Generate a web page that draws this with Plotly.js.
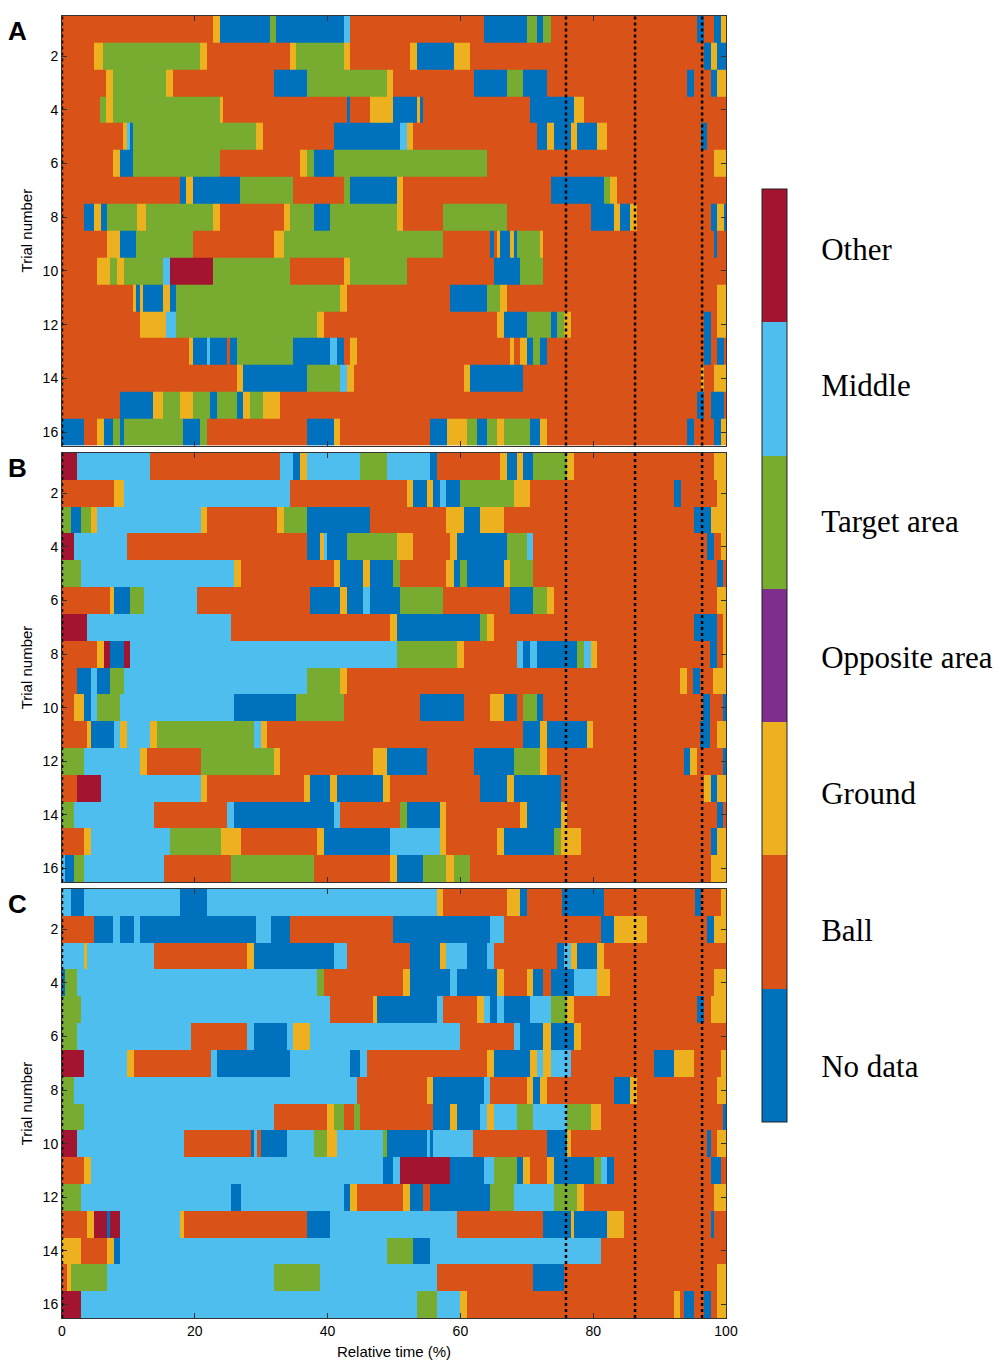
<!DOCTYPE html>
<html>
<head>
<meta charset="utf-8">
<script src="https://cdn.plot.ly/plotly-3.0.1.min.js"></script>
<style>html,body{margin:0;padding:0;background:#fff;}#chart{width:1000px;height:1369px;}</style>
</head>
<body>
<div id="chart"></div>
<script>
// Categories (colour-bar order, bottom to top)
const categories = ['No data','Ball','Ground','Opposite area','Target area','Middle','Other'];
const codeKeys   = ['N','B','G','O','T','M','X'];
const catColors  = ['#0072BD','#D95319','#EDB120','#7E2F8E','#77AC30','#4DBEEE','#A2142F'];
const trials = [1,2,3,4,5,6,7,8,9,10,11,12,13,14,15,16];
const yTicks = [2,4,6,8,10,12,14,16];
const xTicks = [0,20,40,60,80,100];
const eventLines = [0, 75.9, 86.3, 96.4];
const panelLabels = ['A','B','C'];

// Each row: list of [start %, category code]
const panelA = [
 [[0,'B'],[22.8,'G'],[23.8,'N'],[31.3,'T'],[32.3,'N'],[42.4,'M'],[43.4,'B'],[63.5,'N'],[70.0,'T'],[71.5,'N'],[72.5,'T'],[73.6,'B'],[95.7,'N'],[96.7,'B'],[98.2,'N'],[99.2,'G']],
 [[0,'B'],[4.8,'G'],[6.2,'T'],[20.8,'G'],[21.8,'B'],[34.3,'G'],[35.3,'T'],[42.4,'G'],[43.4,'B'],[52.4,'G'],[53.4,'N'],[59.0,'G'],[61.5,'B'],[96.7,'N'],[97.7,'G'],[98.7,'N']],
 [[0,'B'],[6.7,'G'],[7.7,'T'],[15.7,'G'],[16.7,'B'],[31.9,'N'],[36.9,'T'],[48.9,'G'],[49.9,'B'],[62.0,'N'],[67.0,'T'],[69.5,'N'],[73.1,'B'],[94.2,'N'],[95.2,'B'],[97.7,'N'],[98.7,'G']],
 [[0,'B'],[5.7,'T'],[6.7,'G'],[7.7,'T'],[23.8,'G'],[24.3,'B'],[42.9,'N'],[43.4,'B'],[46.4,'G'],[49.9,'N'],[53.4,'G'],[53.9,'N'],[54.4,'B'],[70.5,'N'],[77.1,'G'],[78.6,'B']],
 [[0,'B'],[9.2,'G'],[9.8,'M'],[10.2,'N'],[10.7,'T'],[29.2,'G'],[30.3,'B'],[40.9,'N'],[50.9,'M'],[51.9,'G'],[52.9,'B'],[71.5,'N'],[73.1,'G'],[74.1,'N'],[76.6,'G'],[77.6,'N'],[80.6,'G'],[82.1,'B'],[96.2,'N'],[97.1,'B']],
 [[0,'B'],[7.7,'G'],[8.7,'N'],[10.7,'T'],[23.8,'B'],[35.8,'G'],[36.9,'T'],[37.9,'N'],[40.9,'T'],[64.0,'B'],[98.2,'G']],
 [[0,'B'],[17.7,'N'],[18.7,'G'],[19.7,'N'],[26.8,'T'],[34.8,'B'],[42.4,'T'],[43.4,'N'],[50.4,'G'],[51.4,'B'],[73.6,'N'],[81.6,'T'],[82.6,'G'],[83.6,'B']],
 [[0,'B'],[3.3,'N'],[4.8,'G'],[5.8,'N'],[6.8,'T'],[11.3,'G'],[12.7,'T'],[22.8,'G'],[23.8,'B'],[33.4,'G'],[34.3,'T'],[37.9,'N'],[40.4,'T'],[50.4,'G'],[51.4,'B'],[57.4,'T'],[67.0,'B'],[79.6,'N'],[83.1,'G'],[84.1,'N'],[85.6,'G'],[86.6,'B'],[97.7,'N'],[98.7,'G'],[99.7,'N']],
 [[0,'B'],[6.8,'G'],[8.8,'N'],[11.2,'T'],[19.7,'B'],[31.9,'G'],[33.4,'T'],[57.4,'B'],[64.5,'N'],[65.0,'B'],[65.5,'G'],[66.0,'N'],[67.5,'G'],[68.0,'N'],[68.5,'T'],[72.0,'G'],[72.5,'B'],[98.2,'N'],[98.7,'B']],
 [[0,'B'],[5.3,'G'],[7.3,'T'],[8.3,'G'],[9.3,'T'],[15.2,'M'],[16.2,'X'],[22.8,'T'],[34.3,'B'],[42.4,'G'],[43.4,'T'],[51.9,'B'],[65.0,'N'],[69.0,'T'],[72.5,'B']],
 [[0,'B'],[10.7,'G'],[11.2,'N'],[11.7,'G'],[12.2,'N'],[15.2,'G'],[16.2,'N'],[17.2,'T'],[41.9,'G'],[42.9,'B'],[58.5,'N'],[64.0,'T'],[66.0,'G'],[67.0,'B'],[98.7,'G']],
 [[0,'B'],[11.7,'G'],[15.7,'M'],[17.2,'T'],[38.4,'G'],[39.4,'B'],[65.5,'G'],[66.5,'N'],[70.0,'T'],[73.6,'N'],[74.6,'T'],[75.6,'G'],[76.6,'B'],[96.7,'N'],[97.7,'B'],[98.7,'G']],
 [[0,'B'],[19.2,'G'],[19.7,'N'],[21.8,'M'],[22.3,'N'],[24.8,'B'],[25.3,'N'],[26.3,'T'],[34.8,'N'],[40.4,'M'],[41.4,'N'],[42.4,'B'],[43.4,'G'],[44.4,'B'],[67.5,'G'],[68.0,'B'],[69.0,'G'],[70.0,'N'],[71.0,'T'],[72.0,'N'],[73.0,'B'],[96.7,'N'],[97.7,'B'],[98.7,'N'],[99.7,'B']],
 [[0,'B'],[26.3,'G'],[27.3,'N'],[36.9,'T'],[41.9,'M'],[42.9,'G'],[43.9,'B'],[60.5,'G'],[61.5,'N'],[69.5,'B'],[96.2,'G'],[96.7,'B'],[98.2,'G']],
 [[0,'B'],[8.7,'N'],[13.7,'G'],[15.2,'T'],[17.7,'G'],[19.7,'T'],[22.3,'N'],[23.3,'T'],[26.3,'N'],[27.3,'G'],[28.3,'T'],[30.3,'G'],[32.8,'B'],[95.7,'N'],[96.7,'B'],[97.7,'N'],[99.7,'B']],
 [[0,'N'],[3.3,'B'],[5.3,'G'],[6.3,'N'],[7.7,'T'],[8.8,'N'],[9.3,'T'],[18.2,'N'],[20.8,'T'],[21.8,'B'],[36.9,'N'],[40.9,'G'],[41.9,'B'],[55.4,'N'],[58.0,'G'],[61.0,'T'],[62.5,'N'],[64.0,'T'],[65.5,'G'],[66.5,'T'],[70.5,'N'],[72.0,'G'],[73.1,'B'],[94.2,'N'],[95.2,'B'],[98.2,'N'],[99.2,'G']]
];

const panelB = [
 [[0,'X'],[2.3,'M'],[13.3,'B'],[32.8,'M'],[34.8,'N'],[35.8,'G'],[36.9,'M'],[44.9,'T'],[48.9,'M'],[55.4,'N'],[56.4,'B'],[66.0,'G'],[67.0,'N'],[68.5,'G'],[69.5,'N'],[71.0,'T'],[76.1,'G'],[77.1,'B'],[98.2,'G']],
 [[0,'B'],[7.8,'G'],[9.3,'M'],[34.3,'B'],[51.9,'G'],[52.9,'N'],[54.9,'G'],[55.9,'N'],[56.9,'M'],[57.9,'N'],[60.0,'T'],[68.0,'G'],[70.5,'B'],[92.1,'N'],[93.2,'B'],[98.7,'G']],
 [[0,'T'],[1.3,'N'],[2.8,'T'],[4.3,'G'],[5.3,'M'],[20.9,'G'],[21.9,'B'],[32.4,'G'],[33.4,'T'],[36.9,'N'],[46.4,'B'],[57.9,'G'],[60.5,'N'],[63.0,'G'],[66.5,'B'],[95.2,'N'],[97.7,'G']],
 [[0,'X'],[1.8,'M'],[9.8,'B'],[36.9,'N'],[38.9,'G'],[39.4,'M'],[39.9,'N'],[42.9,'T'],[50.4,'G'],[52.9,'B'],[58.5,'G'],[59.5,'N'],[67.0,'T'],[70.0,'M'],[71.0,'B'],[97.2,'N'],[98.2,'B'],[99.2,'G']],
 [[0,'T'],[2.8,'M'],[25.9,'G'],[26.9,'B'],[40.9,'G'],[41.9,'N'],[45.4,'G'],[46.4,'N'],[49.9,'T'],[50.9,'B'],[57.9,'G'],[59.0,'N'],[60.0,'T'],[61.0,'N'],[66.5,'G'],[67.5,'T'],[71.0,'B'],[98.7,'N'],[99.6,'B']],
 [[0,'B'],[7.3,'G'],[7.8,'N'],[10.3,'T'],[12.3,'M'],[20.4,'B'],[37.4,'N'],[41.9,'G'],[42.9,'N'],[45.4,'M'],[46.4,'N'],[50.9,'T'],[57.4,'B'],[67.5,'N'],[71.0,'T'],[73.1,'G'],[74.1,'B'],[98.7,'G']],
 [[0,'X'],[3.8,'M'],[25.4,'B'],[49.4,'G'],[50.4,'N'],[63.0,'T'],[64.0,'G'],[65.0,'B'],[95.2,'N'],[98.7,'B'],[99.5,'G']],
 [[0,'B'],[5.3,'G'],[6.3,'X'],[7.3,'N'],[9.3,'X'],[10.3,'M'],[50.4,'T'],[59.5,'G'],[60.5,'B'],[68.5,'M'],[69.5,'N'],[70.5,'M'],[71.5,'N'],[77.6,'T'],[78.6,'M'],[79.6,'G'],[80.5,'B'],[97.6,'N'],[98.6,'B'],[99.6,'G']],
 [[0,'B'],[2.3,'N'],[4.3,'M'],[5.3,'N'],[7.3,'T'],[9.3,'M'],[36.9,'T'],[41.9,'G'],[42.9,'B'],[93.1,'G'],[94.1,'B'],[95.1,'N'],[96.1,'B'],[98.1,'G']],
 [[0,'B'],[1.8,'G'],[3.3,'N'],[4.3,'M'],[5.3,'T'],[8.8,'M'],[25.9,'N'],[35.3,'T'],[42.4,'B'],[53.9,'N'],[60.5,'B'],[64.5,'G'],[66.5,'N'],[68.5,'B'],[69.5,'T'],[71.5,'N'],[72.5,'B'],[96.6,'N'],[97.6,'B'],[99.5,'N']],
 [[0,'B'],[3.8,'G'],[4.3,'N'],[7.8,'M'],[8.8,'G'],[9.8,'M'],[13.3,'G'],[14.3,'T'],[28.9,'M'],[29.9,'G'],[30.9,'B'],[69.5,'N'],[72.0,'G'],[73.1,'N'],[79.0,'G'],[80.0,'B'],[96.1,'N'],[97.6,'B'],[98.6,'G']],
 [[0,'T'],[3.3,'M'],[11.8,'G'],[12.8,'B'],[20.9,'T'],[31.9,'G'],[32.9,'B'],[46.9,'G'],[48.9,'N'],[54.9,'B'],[62.0,'N'],[68.0,'T'],[72.0,'G'],[73.1,'B'],[93.6,'N'],[94.6,'G'],[95.6,'B'],[99.6,'N']],
 [[0,'B'],[2.3,'X'],[5.8,'M'],[20.9,'G'],[21.9,'B'],[36.4,'G'],[37.4,'N'],[40.4,'G'],[41.4,'N'],[48.4,'G'],[49.4,'B'],[63.0,'N'],[67.0,'G'],[68.0,'N'],[75.1,'B'],[96.7,'G'],[97.7,'N'],[98.7,'G']],
 [[0,'T'],[1.8,'M'],[13.8,'B'],[24.9,'M'],[25.9,'N'],[40.9,'M'],[41.9,'B'],[50.9,'T'],[51.9,'N'],[56.9,'G'],[57.9,'B'],[69.0,'G'],[70.0,'N'],[75.1,'G'],[76.0,'B'],[98.7,'N'],[99.6,'B']],
 [[0,'B'],[3.3,'G'],[4.3,'M'],[16.3,'T'],[23.9,'G'],[26.9,'B'],[38.4,'G'],[39.4,'N'],[49.4,'M'],[56.9,'G'],[57.9,'B'],[65.5,'G'],[66.5,'N'],[74.1,'T'],[75.1,'G'],[78.1,'B'],[97.7,'N'],[98.7,'G']],
 [[0,'M'],[0.5,'N'],[1.8,'T'],[3.3,'M'],[15.3,'B'],[25.4,'T'],[37.9,'B'],[49.4,'G'],[50.4,'N'],[54.4,'T'],[57.9,'G'],[59.0,'T'],[61.5,'B'],[97.7,'G']]
];

const panelC = [
 [[0,'M'],[1.3,'N'],[3.3,'M'],[17.8,'N'],[21.9,'M'],[56.4,'G'],[57.4,'B'],[67.0,'G'],[69.0,'N'],[70.0,'B'],[75.3,'N'],[81.6,'B'],[95.3,'N'],[96.3,'B'],[99.2,'G']],
 [[0,'B'],[4.8,'N'],[7.7,'M'],[8.8,'N'],[10.8,'M'],[11.8,'N'],[29.2,'M'],[31.4,'N'],[34.3,'B'],[49.9,'N'],[64.5,'M'],[66.5,'B'],[81.2,'N'],[83.1,'G'],[88.1,'B'],[97.2,'N'],[98.2,'G']],
 [[0,'M'],[3.3,'G'],[3.8,'M'],[13.8,'B'],[27.9,'G'],[28.9,'N'],[40.9,'M'],[42.9,'B'],[52.4,'N'],[56.9,'G'],[57.9,'M'],[61.0,'N'],[64.0,'M'],[65.0,'B'],[74.6,'N'],[75.6,'M'],[76.6,'G'],[77.6,'N'],[80.6,'G'],[81.6,'B']],
 [[0,'N'],[0.5,'T'],[2.3,'M'],[38.4,'T'],[39.4,'B'],[51.4,'G'],[52.4,'N'],[58.5,'M'],[59.5,'N'],[65.5,'G'],[66.5,'B'],[70.0,'G'],[71.0,'N'],[72.5,'B'],[73.6,'N'],[77.1,'M'],[80.6,'G'],[82.6,'B'],[98.2,'G']],
 [[0,'T'],[2.8,'M'],[40.4,'B'],[46.9,'G'],[47.4,'N'],[56.4,'M'],[57.4,'B'],[62.5,'G'],[63.5,'M'],[64.5,'N'],[65.5,'M'],[66.5,'N'],[70.5,'M'],[73.6,'T'],[76.1,'G'],[77.1,'B'],[95.7,'N'],[96.7,'B'],[97.7,'G']],
 [[0,'T'],[2.3,'M'],[19.4,'B'],[27.9,'M'],[28.9,'N'],[33.9,'M'],[34.8,'G'],[37.4,'M'],[60.0,'B'],[68.0,'M'],[69.0,'N'],[72.5,'G'],[73.6,'N'],[77.1,'G'],[78.1,'B']],
 [[0,'X'],[3.3,'M'],[9.8,'G'],[10.8,'B'],[22.4,'M'],[23.4,'N'],[34.3,'M'],[43.4,'N'],[44.9,'M'],[45.9,'B'],[64.0,'G'],[65.0,'N'],[70.5,'G'],[71.5,'M'],[72.5,'G'],[73.6,'M'],[76.6,'B'],[89.1,'N'],[92.1,'G'],[95.2,'B'],[99.2,'G']],
 [[0,'T'],[1.8,'M'],[44.4,'B'],[54.9,'G'],[55.9,'N'],[63.5,'M'],[64.5,'B'],[70.0,'G'],[71.0,'N'],[72.0,'G'],[73.1,'B'],[83.1,'N'],[85.6,'G'],[86.6,'B'],[98.7,'G']],
 [[0,'T'],[3.3,'M'],[31.9,'B'],[39.9,'G'],[40.9,'T'],[42.4,'B'],[43.9,'T'],[44.9,'B'],[55.9,'N'],[58.5,'G'],[59.5,'N'],[63.0,'M'],[64.0,'G'],[65.0,'M'],[68.5,'T'],[71.0,'M'],[76.1,'T'],[79.6,'G'],[81.1,'B'],[99.6,'N']],
 [[0,'X'],[2.3,'M'],[18.3,'B'],[28.4,'N'],[28.9,'M'],[29.4,'B'],[29.9,'N'],[33.9,'M'],[37.9,'T'],[39.9,'G'],[41.4,'M'],[48.4,'T'],[48.9,'N'],[54.9,'M'],[55.4,'N'],[55.9,'M'],[61.9,'B'],[73.1,'N'],[76.1,'G'],[76.6,'B'],[97.2,'N'],[97.7,'B'],[98.7,'G']],
 [[0,'B'],[3.3,'G'],[4.3,'M'],[48.4,'N'],[49.9,'M'],[50.9,'X'],[58.5,'N'],[63.5,'M'],[65.0,'T'],[68.5,'N'],[69.5,'G'],[70.5,'B'],[73.1,'G'],[74.1,'N'],[80.1,'T'],[81.1,'M'],[82.1,'N'],[83.1,'B'],[97.7,'N'],[99.2,'B']],
 [[0,'T'],[2.8,'M'],[25.4,'N'],[26.9,'M'],[42.4,'N'],[43.4,'G'],[44.4,'B'],[51.4,'G'],[52.4,'N'],[54.4,'B'],[55.4,'N'],[64.5,'T'],[68.0,'M'],[74.1,'T'],[77.6,'G'],[78.6,'B'],[98.2,'G']],
 [[0,'B'],[3.8,'G'],[4.8,'X'],[6.8,'N'],[7.3,'X'],[8.8,'M'],[17.8,'G'],[18.3,'B'],[36.9,'N'],[40.4,'M'],[59.5,'B'],[72.5,'N'],[76.6,'G'],[77.1,'N'],[82.1,'G'],[84.6,'B'],[97.7,'N'],[98.2,'B']],
 [[0,'G'],[2.8,'B'],[6.8,'G'],[7.8,'N'],[8.8,'M'],[48.9,'T'],[52.9,'N'],[55.4,'M'],[81.1,'B']],
 [[0,'B'],[0.8,'G'],[1.3,'T'],[6.8,'M'],[31.9,'T'],[38.9,'M'],[56.4,'B'],[71.0,'N'],[75.6,'B'],[98.7,'G']],
 [[0,'X'],[2.8,'M'],[53.4,'T'],[56.4,'M'],[59.9,'G'],[61.0,'B'],[92.1,'G'],[93.1,'B'],[93.6,'N'],[95.2,'B'],[96.7,'N'],[97.7,'B'],[98.7,'G']]
];

// ---- build heatmap tables from segments ----
function buildPanel(rows) {
  const set = new Set([100]);
  rows.forEach(r => r.forEach(s => set.add(s[0])));
  const edges = Array.from(set).sort((a, b) => a - b);
  const z = rows.map(r => {
    const out = [];
    for (let i = 0; i < edges.length - 1; i++) {
      const mid = (edges[i] + edges[i + 1]) / 2;
      let c = r[0][1];
      for (const s of r) { if (s[0] <= mid) c = s[1]; }
      out.push(codeKeys.indexOf(c) + 1);
    }
    return out;
  });
  return {edges, z};
}

const n = categories.length;
const colorscale = [];
catColors.forEach((c, k) => { colorscale.push([k / n, c]); colorscale.push([(k + 1) / n, c]); });
// label placement on the colour bar (slightly spread, as in the reference)
const cbLabelPos = categories.map((_, k) => 0.92 + k * 1.021);

const panels = [panelA, panelB, panelC];
const suffix = ['', '2', '3'];
// pixel layout -> paper fractions
const H = 1369, W = 1000;
const panelPx = [[15.7, 445.6], [453, 882], [889, 1318]];
const xDom = [62 / W, 726 / W];

const data = [];
const layout = {
  width: W, height: H,
  margin: {l: 0, r: 0, t: 0, b: 0},
  paper_bgcolor: '#fff', plot_bgcolor: '#fff',
  font: {family: 'Arial, "Liberation Sans", sans-serif', color: '#000', size: 14},
  showlegend: false,
  shapes: [], annotations: []
};

panels.forEach((rows, p) => {
  const built = buildPanel(rows);
  const s = suffix[p];
  data.push({
    type: 'heatmap',
    x: built.edges, y: trials, z: built.z,
    zmin: 0.5, zmax: n + 0.5,
    colorscale: colorscale,
    xaxis: 'x' + s, yaxis: 'y' + s,
    hoverinfo: 'skip',
    showscale: p === 0,
    colorbar: {
      x: 762 / W, xanchor: 'left', xpad: 0, ypad: 0,
      y: 1 - (189 + 1121.5) / 2 / H, yanchor: 'middle',
      len: (1121.5 - 189) / H, lenmode: 'fraction',
      thickness: 25, thicknessmode: 'pixels',
      outlinewidth: 1, outlinecolor: '#222',
      tickvals: cbLabelPos,
      ticktext: categories,
      ticks: 'outside', ticklen: 28, tickcolor: 'rgba(0,0,0,0)',
      tickfont: {family: '"Times New Roman", "Liberation Serif", serif', size: 31, color: '#000'}
    }
  });
  const top = 1 - panelPx[p][0] / H, bot = 1 - panelPx[p][1] / H;
  layout['xaxis' + s] = {
    domain: xDom, anchor: 'y' + s, range: [0, 100],
    tickvals: xTicks, ticktext: xTicks.map(String),
    ticks: 'inside', ticklen: 5, tickcolor: '#333',
    showline: true, linecolor: '#333', linewidth: 1, mirror: 'ticks',
    showgrid: false, zeroline: false,
    showticklabels: p === 2,
    tickfont: {size: 14},
    title: p === 2 ? {text: 'Relative time (%)', font: {size: 15}, standoff: 8} : {text: ''}
  };
  layout['yaxis' + s] = {
    domain: [bot, top], anchor: 'x' + s, range: [16.5, 0.5],
    tickvals: yTicks, ticktext: yTicks.map(String),
    ticks: 'inside', ticklen: 5, tickcolor: '#333',
    showline: true, linecolor: '#333', linewidth: 1, mirror: 'ticks',
    showgrid: false, zeroline: false,
    tickfont: {size: 14},
    title: {text: 'Trial number', font: {size: 15}, standoff: 6}
  };
  eventLines.forEach(v => {
    layout.shapes.push({
      type: 'line', xref: 'x' + s, yref: 'y' + s + ' domain',
      x0: v, x1: v, y0: 0, y1: 1,
      line: {color: '#000', width: 2.5, dash: 'dot'}
    });
  });
  layout.annotations.push({
    text: '<b>' + panelLabels[p] + '</b>', xref: 'paper', yref: 'paper',
    x: 6 / W, xanchor: 'left', y: 1 - (panelPx[p][0] + 15) / H, yanchor: 'middle',
    showarrow: false, font: {size: 26, family: 'Arial, "Liberation Sans", sans-serif', color: '#000'}
  });
});

Plotly.newPlot('chart', data, layout, {staticPlot: true, displayModeBar: false});
</script>
</body>
</html>
